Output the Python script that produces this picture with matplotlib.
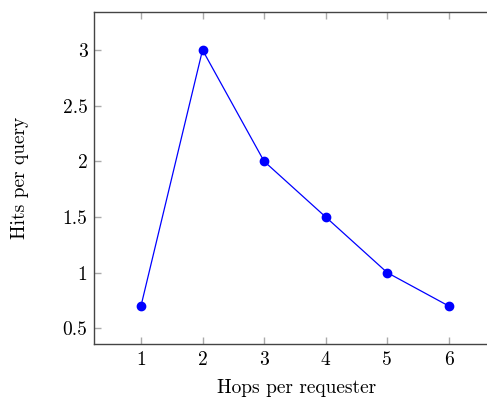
import matplotlib
matplotlib.use("Agg")
import matplotlib.pyplot as plt

plt.rcParams['font.family'] = 'serif'
plt.rcParams['font.serif'] = ['cmr10']
plt.rcParams['mathtext.fontset'] = 'cm'
plt.rcParams['axes.formatter.use_mathtext'] = True

hops = [1, 2, 3, 4, 5, 6]
hits = [0.7, 3.0, 2.0, 1.5, 1.0, 0.7]
yticks = [0.5, 1, 1.5, 2, 2.5, 3]
ytick_labels = ["0.5", "1", "1.5", "2", "2.5", "3"]

fig = plt.figure(figsize=(4.87, 4.03), dpi=100)
ax = fig.add_axes([0.194, 0.1464, 0.83, 0.824])

ax.plot(hops, hits, color='blue', linewidth=0.9, marker='o', markersize=6)

ax.set_xlim(0.245, 6.81)
ax.set_ylim(0.359, 3.342)
ax.set_xticks(hops)
ax.set_xticklabels([str(h) for h in hops])
ax.set_yticks(yticks)
ax.set_yticklabels(ytick_labels)

for s in ax.spines.values():
    s.set_color('#444444')
    s.set_linewidth(1.0)
ax.tick_params(direction='in', top=True, right=True, length=5, width=1,
               color='#aaaaaa', labelsize=14, pad=5)

ax.set_xlabel("Hops per requester", fontsize=14, labelpad=7)
ax.set_ylabel("Hits per query", fontsize=14, labelpad=24)

fig.savefig("out.png", dpi=100)
